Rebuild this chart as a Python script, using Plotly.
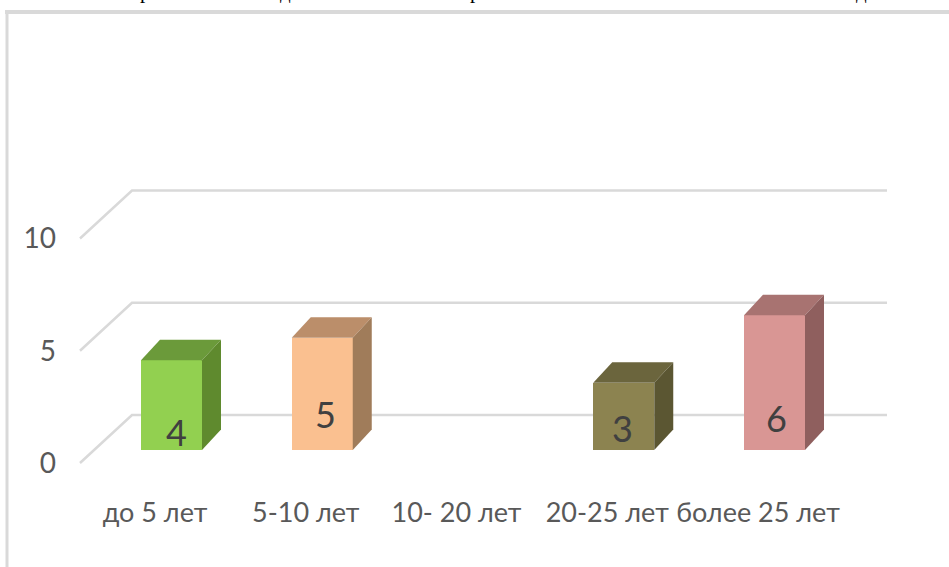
import plotly.graph_objects as go

categories = ["до 5 лет", "5-10 лет", "10- 20 лет", "20-25 лет", "более 25 лет"]
values = [4, 5, None, 3, 6]
front_colors = ["#92d050", "#fac090", "#ffffff", "#8c8350", "#d99694"]
top_colors = ["#6b9a3a", "#bb8e6a", "#ffffff", "#6b653d", "#a87371"]
side_colors = ["#5f8a2e", "#a07c5a", "#ffffff", "#5b5632", "#8f5f5e"]
y_ticks = [0, 5, 10]

W, H = 949, 567
PX_PER_CAT = 150.75
PX_PER_UNIT = 22.45
BAR_W = 61 / PX_PER_CAT
DX, DY = 19 / PX_PER_CAT, 20.5 / PX_PER_UNIT
FONT = "Lato, Open Sans, sans-serif"
TXT = "#595959"

fig = go.Figure()

# Floor/wall gridlines on the label axes (main subplot, below the bars)
gx0, gx1, gx2 = (80 - 155) / PX_PER_CAT, (132 - 155) / PX_PER_CAT, (887 - 155) / PX_PER_CAT
gdy = 48 / PX_PER_UNIT
for v in y_ticks:
    fig.add_trace(go.Scatter(x=[gx0, gx1, gx2], y=[v, v + gdy, v + gdy], mode="lines",
                             line=dict(color="#d9d9d9", width=2.5), xaxis="x", yaxis="y",
                             hoverinfo="skip", showlegend=False))

# Front faces (overlay subplot, above the gridlines)
fig.add_trace(go.Bar(x=list(range(len(categories))), y=values, width=BAR_W,
                     marker=dict(color=front_colors, line_width=0),
                     showlegend=False, xaxis="x2", yaxis="y2"))

# Top and side faces derived from the values
for i, v in enumerate(values):
    if v is None:
        continue
    l, r = i - BAR_W / 2, i + BAR_W / 2
    fig.add_trace(go.Scatter(x=[l, l + DX, r + DX, r, l], y=[v, v + DY, v + DY, v, v], mode="lines",
                             fill="toself", fillcolor=top_colors[i], line=dict(width=0), hoverinfo="skip",
                             showlegend=False, xaxis="x2", yaxis="y2"))
    fig.add_trace(go.Scatter(x=[r, r + DX, r + DX, r, r], y=[0, DY, v + DY, v, 0], mode="lines",
                             fill="toself", fillcolor=side_colors[i], line=dict(width=0), hoverinfo="skip",
                             showlegend=False, xaxis="x2", yaxis="y2"))

# Value labels
label_shift = {0: (5, 18), 1: (3, 36), 3: (-1, 22), 4: (2, 32)}
for i, v in enumerate(values):
    if v is None:
        continue
    sx, sy = label_shift[i]
    fig.add_annotation(x=i, y=0, xref="x2", yref="y2", text=str(v), showarrow=False, xshift=sx, yshift=sy,
                       font=dict(family=FONT, size=36, color="#404040"))

# Clipped descenders of the page text above the chart
for px, ch in [(145, "р"), (285, "д"), (475, "р"), (861, "д")]:
    fig.add_annotation(x=px / W, y=1, xref="paper", yref="paper", text=ch, showarrow=False, yanchor="bottom",
                       xanchor="center", yshift=-5, font=dict(family="Liberation Serif", size=21, color="#000000"))

fig.update_layout(
    width=W, height=H, margin=dict(l=0, r=0, t=0, b=0, autoexpand=False),
    paper_bgcolor="#ffffff", plot_bgcolor="#ffffff",
    autosize=False, bargap=0,
    xaxis2=dict(domain=[0, 1], overlaying="x", range=[-171.5 / PX_PER_CAT, (W - 171.5) / PX_PER_CAT],
                visible=False, fixedrange=True),
    yaxis2=dict(domain=[0, 1], overlaying="y", range=[-(H - 450) / PX_PER_UNIT, 450 / PX_PER_UNIT],
                visible=False, fixedrange=True),
    xaxis=dict(domain=[0, 1], range=[-155 / PX_PER_CAT, (W - 155) / PX_PER_CAT],
               tickmode="array", tickvals=list(range(len(categories))), ticktext=categories,
               anchor="free", position=(H - 494) / H, showgrid=False, zeroline=False, showline=False,
               ticks="", tickangle=0, automargin=False,
               tickfont=dict(family=FONT, size=27, color=TXT), fixedrange=True),
    yaxis=dict(domain=[0, 1], range=[-(H - 463) / PX_PER_UNIT, 463 / PX_PER_UNIT],
               tickmode="array", tickvals=y_ticks, ticktext=[str(t) for t in y_ticks],
               anchor="free", position=56 / W, side="left", showgrid=False, zeroline=False, showline=False,
               ticks="", tickangle=0, automargin=False,
               tickfont=dict(family=FONT, size=28, color=TXT), fixedrange=True),
    shapes=[
        dict(type="line", xref="paper", yref="paper", x0=5 / W, x1=1, y0=1 - 12 / H, y1=1 - 12 / H,
             line=dict(color="#d9d9d9", width=4)),
        dict(type="line", xref="paper", yref="paper", x0=7 / W, x1=7 / W, y0=0, y1=1 - 10 / H,
             line=dict(color="#d9d9d9", width=3)),
    ],
)

fig.write_html("out.html", config={"displayModeBar": False},
               post_script="document.body.style.margin='0';")
